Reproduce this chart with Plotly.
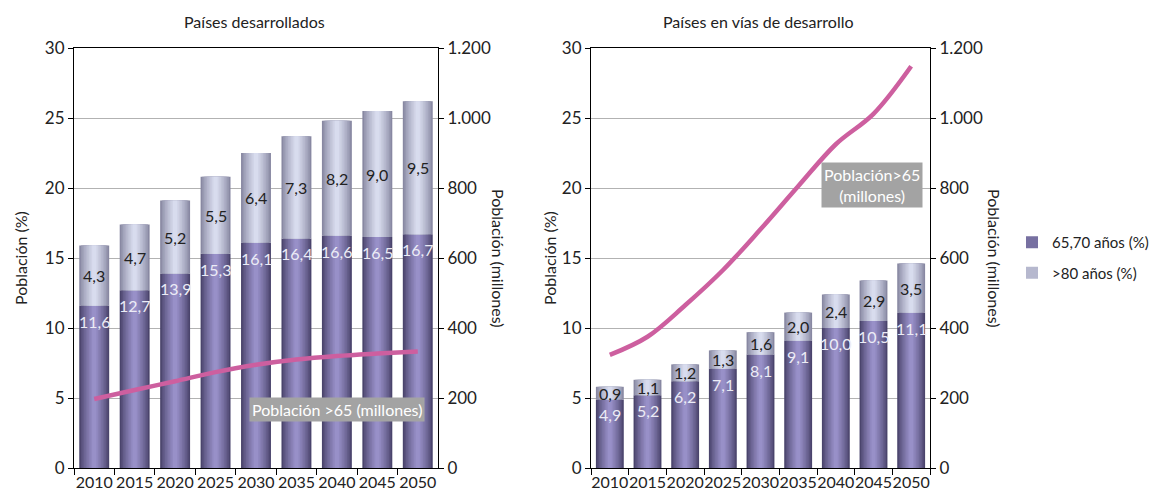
import plotly.graph_objects as go

# ---------------- data ----------------
years = ["2010", "2015", "2020", "2025", "2030", "2035", "2040", "2045", "2050"]

# Países desarrollados
dev_65_79 = [11.6, 12.7, 13.9, 15.3, 16.1, 16.4, 16.6, 16.5, 16.7]
dev_80 = [4.3, 4.7, 5.2, 5.5, 6.4, 7.3, 8.2, 9.0, 9.5]
dev_pop65 = [197, 223, 248, 274, 295, 310, 320, 327, 333]

# Países en vías de desarrollo
vdd_65_79 = [4.9, 5.2, 6.2, 7.1, 8.1, 9.1, 10.0, 10.5, 11.1]
vdd_80 = [0.9, 1.1, 1.2, 1.3, 1.6, 2.0, 2.4, 2.9, 3.5]
vdd_pop65 = [323, 375, 465, 565, 682, 805, 925, 1012, 1148]

left_ticks = [0, 5, 10, 15, 20, 25, 30]
right_ticks = [0, 200, 400, 600, 800, 1000, 1200]

# ---------------- style ----------------
W, H = 1161, 493
OFF = 8  # page body margin
FONT = "Lato"
TXT = "#222222"
BAR_W = 0.74
N_LAYERS = 9
DARK_EDGE, DARK_CENTER = (74, 68, 108), (152, 144, 200)
LIGHT_EDGE, LIGHT_CENTER = (136, 136, 162), (216, 220, 238)
LINE_COLOR = "#cd5f9f"


def px_x(p):
    return (p - OFF) / W


def px_y(p):
    return 1 - (p - OFF) / H


def mix(a, b, t):
    return "rgb(%d,%d,%d)" % tuple(round(a[i] + (b[i] - a[i]) * t) for i in range(3))


fig = go.Figure()


def add_gradient_bars(xa, ya, values, base, edge, center, name, legend, group):
    for k in range(N_LAYERS):
        t = k / (N_LAYERS - 1)
        w = BAR_W * (1 - 0.86 * t)
        fig.add_trace(go.Bar(
            x=years, y=values, base=base, width=w,
            marker=dict(color=mix(edge, center, t ** 0.8), line=dict(width=0)),
            xaxis=xa, yaxis=ya, name=name, legendgroup=group,
            showlegend=(legend and k == N_LAYERS // 2),
            hoverinfo="skip",
        ))


for xa, ya, ya2, low, high, pop in [
    ("x", "y", "y2", dev_65_79, dev_80, dev_pop65),
    ("x2", "y3", "y4", vdd_65_79, vdd_80, vdd_pop65),
]:
    first = xa == "x"
    add_gradient_bars(xa, ya, low, None, DARK_EDGE, DARK_CENTER,
                      "65,70 años (%)", first, "g1")
    add_gradient_bars(xa, ya, high, low, LIGHT_EDGE, LIGHT_CENTER,
                      ">80 años (%)", first, "g2")
    fig.add_trace(go.Scatter(
        x=years, y=pop, mode="lines", line=dict(color=LINE_COLOR, width=4.5, shape="spline"),
        xaxis=xa, yaxis=ya2, showlegend=False, hoverinfo="skip",
    ))

annotations = []
for xa, ya, low, high in [("x", "y", dev_65_79, dev_80), ("x2", "y3", vdd_65_79, vdd_80)]:
    for i, (a, b) in enumerate(zip(low, high)):
        annotations.append(dict(
            x=i, y=a, xref=xa, yref=ya, xanchor="center", yanchor="top", yshift=-4,
            text=("%.1f" % a).replace(".", ","), showarrow=False,
            font=dict(family=FONT, size=16, color="#ececf6"),
        ))
        annotations.append(dict(
            x=i, y=a + b / 2, xref=xa, yref=ya, xanchor="center", yanchor="middle",
            text=("%.1f" % b).replace(".", ","), showarrow=False,
            font=dict(family=FONT, size=16, color=TXT),
        ))

# titles and axis titles
for text, x in [("Países desarrollados", 255), ("Países en vías de desarrollo", 758)]:
    annotations.append(dict(x=px_x(x), y=px_y(21), xref="paper", yref="paper", text=text,
                            xanchor="center", yanchor="middle", showarrow=False,
                            font=dict(family=FONT, size=16, color=TXT)))
for x in (20, 549):
    annotations.append(dict(x=px_x(x), y=px_y(258), xref="paper", yref="paper",
                            text="Población (%)", textangle=-90, showarrow=False,
                            xanchor="center", yanchor="middle",
                            font=dict(family=FONT, size=16, color=TXT)))
for x in (499, 995):
    annotations.append(dict(x=px_x(x), y=px_y(258), xref="paper", yref="paper",
                            text="Población (millones)", textangle=90, showarrow=False,
                            xanchor="center", yanchor="middle",
                            font=dict(family=FONT, size=16, color=TXT)))

# gray labels for the line
annotations.append(dict(x=px_x(337), y=px_y(409), xref="paper", yref="paper",
                        text="Población >65 (millones)", showarrow=False,
                        bgcolor="#a3a3a3", borderpad=2, xanchor="center", yanchor="middle",
                        font=dict(family=FONT, size=16, color="white")))
annotations.append(dict(x=px_x(872), y=px_y(185), xref="paper", yref="paper",
                        text="Población>65<br>(millones)", showarrow=False,
                        bgcolor="#a3a3a3", borderpad=2, align="center",
                        xanchor="center", yanchor="middle",
                        font=dict(family=FONT, size=16, color="white")))

xdom1 = [px_x(74), px_x(438)]
xdom2 = [px_x(591), px_x(930)]
ydom = [px_y(468), px_y(48)]

xcommon = dict(type="category", range=[-0.5, 8.5], tickson="boundaries", ticks="outside",
               ticklen=6, tickcolor="black", showline=True, linecolor="black", linewidth=1,
               mirror=True, showgrid=False, tickangle=0, automargin=False,
               tickfont=dict(family=FONT, size=16, color=TXT), fixedrange=True)
ycommon = dict(range=[0, 30], tickvals=left_ticks, ticks="outside", ticklen=5,
               tickcolor="black", showline=True, linecolor="black", linewidth=1,
               showgrid=True, gridcolor="#b2b2b2", gridwidth=1, zeroline=False,
               automargin=False,
               tickfont=dict(family=FONT, size=17, color=TXT), domain=ydom)
y2common = dict(range=[0, 1200], tickvals=right_ticks, tickformat=",d", side="right",
                ticks="outside", ticklen=5, tickcolor="black", showline=True,
                linecolor="black", linewidth=1, showgrid=False, zeroline=False,
                automargin=False,
                tickfont=dict(family=FONT, size=17, color=TXT))

fig.update_layout(
    template="none",
    width=W, height=H, margin=dict(l=0, r=0, t=0, b=0, autoexpand=False),
    paper_bgcolor="white", plot_bgcolor="white",
    barmode="overlay", separators=",.",
    font=dict(family=FONT, color=TXT),
    xaxis=dict(domain=xdom1, anchor="y", **xcommon),
    xaxis2=dict(domain=xdom2, anchor="y3", **xcommon),
    yaxis=dict(anchor="x", **ycommon),
    yaxis2=dict(anchor="x", overlaying="y", **y2common),
    yaxis3=dict(anchor="x2", **ycommon),
    yaxis4=dict(anchor="x2", overlaying="y3", **y2common),
    legend=dict(x=px_x(1012), y=px_y(226), xanchor="left", yanchor="top",
                font=dict(family=FONT, size=15, color=TXT), tracegroupgap=8,
                itemwidth=30, bgcolor="rgba(0,0,0,0)"),
    annotations=annotations,
    showlegend=True,
)

fig.write_html("out.html")
